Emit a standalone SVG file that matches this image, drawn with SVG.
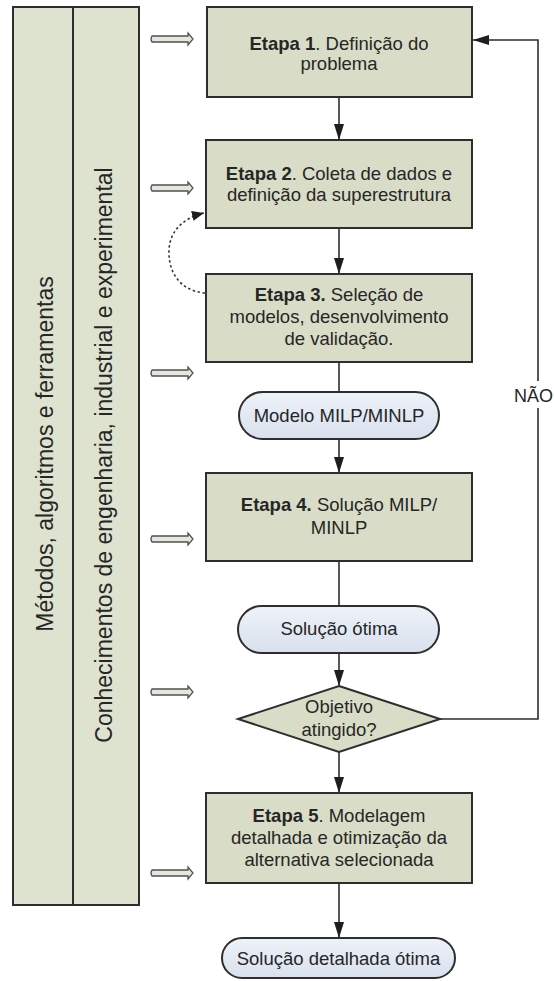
<svg xmlns="http://www.w3.org/2000/svg" width="554" height="981" viewBox="0 0 554 981">
  <style>
    .step { fill: #d9ddc7; stroke: #2e2e2e; stroke-width: 2; }
    .panel { fill: #dee3d0; stroke: #2e2e2e; stroke-width: 2; }
    .term { fill: url(#termFill); stroke: #2e2e2e; stroke-width: 2; }
    .label { font-family: "Liberation Sans", Arial, sans-serif; font-size: 18.5px; fill: #262626; text-anchor: middle; }
    .side { font-family: "Liberation Sans", Arial, sans-serif; font-size: 23px; fill: #262626; text-anchor: middle; }
    .b { font-weight: bold; }
    .flow { fill: none; stroke: #2e2e2e; stroke-width: 1.6; }
    .dash { fill: none; stroke: #3a3a3a; stroke-width: 1.6; stroke-dasharray: 2.5 2.5; }
    .input { fill: #e6e7dc; stroke: #505050; stroke-width: 1.3; }
  </style>
  <defs>
    <linearGradient id="termFill" x1="0" y1="0" x2="0" y2="1">
      <stop offset="0" stop-color="#eef2f9"/>
      <stop offset="1" stop-color="#d9e1ee"/>
    </linearGradient>
    <marker id="head" viewBox="0 0 16 10" refX="16" refY="5" markerWidth="16" markerHeight="10" markerUnits="userSpaceOnUse" orient="auto">
      <path d="M0,0 L16,5 L0,10 Z" fill="#1e1e1e"/>
    </marker>
    <marker id="headSmall" viewBox="0 0 12 10" refX="12" refY="5" markerWidth="12" markerHeight="10" markerUnits="userSpaceOnUse" orient="auto">
      <path d="M0,0 L12,5 L0,10 Z" fill="#1e1e1e"/>
    </marker>
    <path id="inArrow" class="input" d="M152,-3 L188,-3 L188,-6 L193,0 L188,6 L188,3 L152,3 Q150,0 152,-3 Z"/>
  </defs>

  <rect width="554" height="981" fill="#ffffff"/>

  <!-- side knowledge panels -->
  <g id="panel-metodos">
    <rect class="panel" x="13" y="7" width="60" height="898"/>
    <text class="side" transform="translate(53,454) rotate(-90)">Métodos, algoritmos e ferramentas</text>
  </g>
  <g id="panel-conhecimentos">
    <rect class="panel" x="73" y="7" width="66" height="898"/>
    <text class="side" transform="translate(112,455) rotate(-90)">Conhecimentos de engenharia, industrial e experimental</text>
  </g>

  <!-- inputs from panels -->
  <g id="inputs">
    <use href="#inArrow" y="39"/>
    <use href="#inArrow" y="188"/>
    <use href="#inArrow" y="373"/>
    <use href="#inArrow" y="539"/>
    <use href="#inArrow" y="692"/>
    <use href="#inArrow" y="873"/>
  </g>

  <!-- connectors -->
  <g id="connectors">
    <line class="flow" x1="339" y1="97" x2="339" y2="140" marker-end="url(#head)"/>
    <line class="flow" x1="339" y1="228" x2="339" y2="274" marker-end="url(#head)"/>
    <line class="flow" x1="339" y1="362" x2="339" y2="392"/>
    <line class="flow" x1="339" y1="439" x2="339" y2="473" marker-end="url(#head)"/>
    <line class="flow" x1="339" y1="561" x2="339" y2="606"/>
    <line class="flow" x1="339" y1="653" x2="339" y2="686" marker-end="url(#head)"/>
    <line class="flow" x1="339" y1="752" x2="339" y2="793" marker-end="url(#head)"/>
    <line class="flow" x1="339" y1="883" x2="339" y2="938" marker-end="url(#head)"/>
    <!-- NÃO loop back to step 1 -->
    <polyline class="flow" points="440,719 538,719 538,408"/>
    <polyline class="flow" points="538,381 538,40 473,40" marker-end="url(#head)"/>
    <text class="label" x="514" y="402" style="text-anchor:start;font-size:18px">NÃO</text>
    <!-- iteration between steps 3 and 2 -->
    <path class="dash" d="M205,293 C180,291 168,272 169,250 C170,230 184,218 204,213" marker-end="url(#headSmall)"/>
  </g>

  <g id="etapa1">
    <rect class="step" x="207" y="7" width="265" height="90"/>
    <text class="label" x="339" y="49.5"><tspan class="b">Etapa 1</tspan>. Definição do</text>
    <text class="label" x="339" y="70">problema</text>
  </g>
  <g id="etapa2">
    <rect class="step" x="206" y="140" width="266" height="88"/>
    <text class="label" x="339" y="179.5"><tspan class="b">Etapa 2</tspan>. Coleta de dados e</text>
    <text class="label" x="339" y="201">definição da superestrutura</text>
  </g>
  <g id="etapa3">
    <rect class="step" x="206" y="274" width="266" height="88"/>
    <text class="label" x="339" y="301"><tspan class="b">Etapa 3.</tspan> Seleção de</text>
    <text class="label" x="339" y="323">modelos, desenvolvimento</text>
    <text class="label" x="339" y="344.5">de validação.</text>
  </g>
  <g id="modelo">
    <rect class="term" x="239" y="392" width="200" height="47" rx="23.5"/>
    <text class="label" x="339" y="421.5">Modelo MILP/MINLP</text>
  </g>
  <g id="etapa4">
    <rect class="step" x="206" y="473" width="266" height="88"/>
    <text class="label" x="339" y="511"><tspan class="b">Etapa 4.</tspan> Solução MILP/</text>
    <text class="label" x="339" y="534">MINLP</text>
  </g>
  <g id="solucao">
    <rect class="term" x="238" y="606" width="201" height="47" rx="23.5"/>
    <text class="label" x="339" y="634.5">Solução ótima</text>
  </g>
  <g id="decisao">
    <polygon class="step" points="339,686 440,719 339,752 238,719"/>
    <text class="label" x="339" y="713">Objetivo</text>
    <text class="label" x="339" y="736">atingido?</text>
  </g>
  <g id="etapa5">
    <rect class="step" x="206" y="793" width="266" height="90"/>
    <text class="label" x="339" y="821.5"><tspan class="b">Etapa 5</tspan>. Modelagem</text>
    <text class="label" x="339" y="843.5">detalhada e otimização da</text>
    <text class="label" x="339" y="866">alternativa selecionada</text>
  </g>
  <g id="solucao-detalhada">
    <rect class="term" x="222" y="938" width="233" height="40" rx="20"/>
    <text class="label" x="338.5" y="964.5">Solução detalhada ótima</text>
  </g>
</svg>
